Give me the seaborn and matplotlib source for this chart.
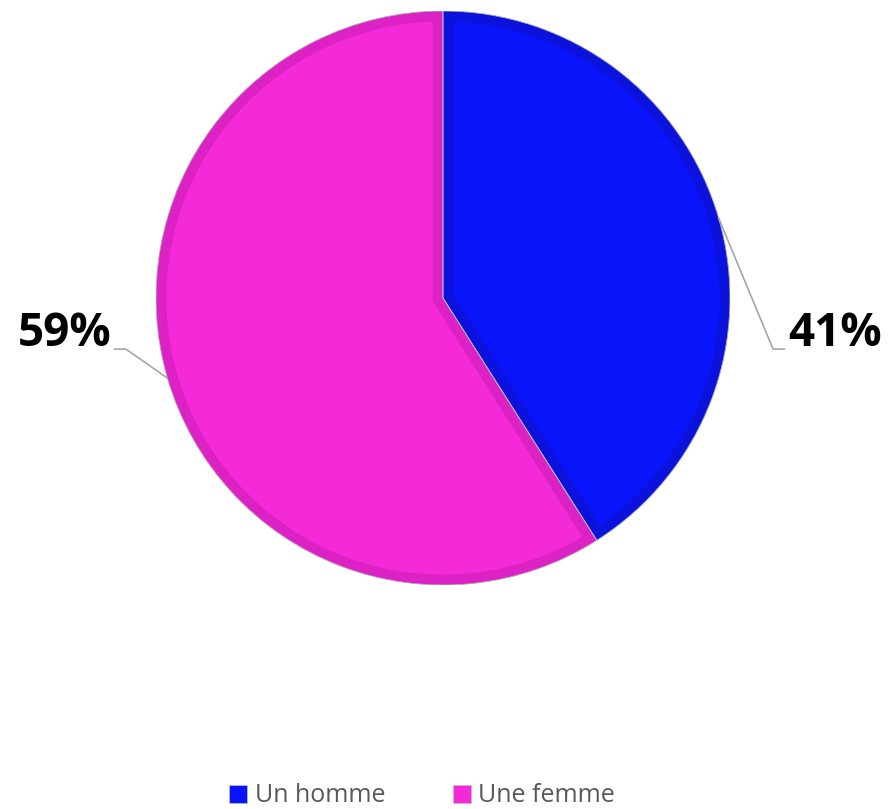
import numpy as np
import matplotlib
matplotlib.use("Agg")
import matplotlib.pyplot as plt
from matplotlib.patches import Patch, Wedge
import seaborn as sns

# Répartition par sexe
categories = ["Un homme", "Une femme"]
shares = [41, 59]
fill_colors = ["#0A14FA", "#F42AD8"]
rim_colors = ["#0A12DC", "#DC22C4"]

sns.set_theme(style="white")
plt.rcParams["font.family"] = ["Open Sans", "DejaVu Sans"]

W, H = 889, 809
fig = plt.figure(figsize=(W / 100, H / 100), dpi=100)
cx, cy, r = 443, 298, 287
ax = fig.add_axes([(cx - r) / W, (H - cy - r) / H, 2 * r / W, 2 * r / H])

wedges, _ = ax.pie(shares, colors=fill_colors, startangle=90, counterclock=False,
                   radius=1, wedgeprops=dict(linewidth=0))
ax.set_xlim(-1, 1)
ax.set_ylim(-1, 1)
ax.set_aspect("equal")
ax.axis("off")

# darker inner rim on each slice, clipped to the slice itself
for w, rc in zip(wedges, rim_colors):
    rim = Wedge(w.center, w.r, w.theta1, w.theta2,
                facecolor="none", edgecolor=rc, linewidth=15)
    ax.add_patch(rim)
    rim.set_clip_path(w)
    rim.set_zorder(2)
    w.set_zorder(1)

# thin outline and separators on top
for w in wedges:
    outline = Wedge(w.center, w.r, w.theta1, w.theta2,
                    facecolor="none", edgecolor="#b8b8b8", linewidth=0.6)
    outline.set_zorder(3)
    ax.add_patch(outline)

# labels with leader lines
total = sum(shares)
for w, v in zip(wedges, shares):
    mid = np.deg2rad((w.theta1 + w.theta2) / 2)
    x0, y0 = np.cos(mid), np.sin(mid)
    side = 1 if x0 > 0 else -1
    ex = side * (1.15 if side > 0 else 1.105)
    ey = -0.178
    hx = ex + side * 0.04
    ax.plot([x0, ex, hx], [y0, ey, ey], color="#a6a6a6", lw=1.2,
            clip_on=False, zorder=4)
    ax.text(hx + side * 0.012, ey + 0.01, f"{round(v / total * 100)}%",
            ha="left" if side > 0 else "right", va="baseline",
            fontsize=33, fontweight="bold", color="black", clip_on=False)

handles = [Patch(facecolor=c, edgecolor="#c0c0c0", linewidth=0.5) for c in fill_colors]
fig.legend(handles, categories, loc="center", ncol=2,
           bbox_to_anchor=(422 / W, 1 - 796 / H), frameon=False,
           fontsize=18, labelcolor="#595959", handlelength=0.72,
           handleheight=0.72, handletextpad=0.3, columnspacing=2.7)

fig.savefig("out.png", dpi=100)
